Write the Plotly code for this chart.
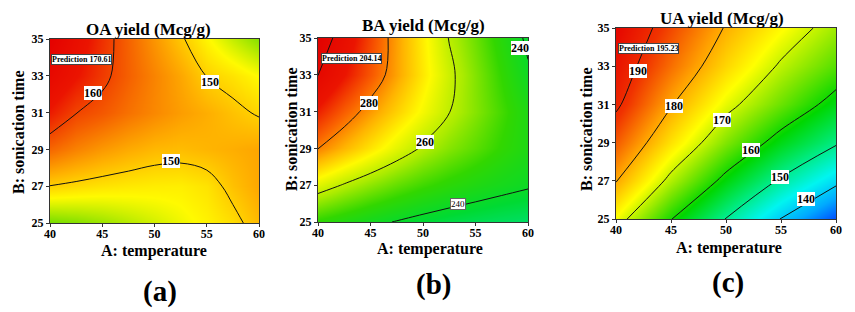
import plotly.graph_objects as go

# ---------------- data ----------------
temp_ab = [40, 42.5, 45, 47.5, 50, 52.5, 55, 57.5, 60]     # A: temperature (panels a, b grid)
temp_c = [40, 45, 50, 55, 60]                               # A: temperature (panel c grid)
son_time = [25, 27, 29, 31, 33, 35]                         # B: sonication time
x_ticks = [40, 45, 50, 55, 60]
y_ticks = [25, 27, 29, 31, 33, 35]

oa_yield = [
    [140.8, 141.5, 142.5, 143.7, 145.0, 146.3, 147.5, 149.0, 151.5],
    [149.9, 149.2, 148.6, 148.2, 147.9, 147.8, 148.6, 151.0, 152.8],
    [157.5, 155.5, 153.9, 152.6, 151.6, 151.3, 151.8, 152.3, 152.9],
    [163.4, 160.1, 158.6, 156.7, 155.0, 153.5, 152.3, 150.9, 149.6],
    [167.7, 164.2, 161.0, 158.0, 155.3, 152.8, 149.9, 148.6, 146.9],
    [170.6, 166.1, 161.8, 157.8, 154.0, 150.5, 147.3, 144.3, 141.6],
]
ba_yield = [
    [247.0, 244.5, 241.8, 239.6, 237.6, 236.0, 234.8, 233.8, 233.0],
    [263.8, 259.4, 255.5, 252.0, 249.0, 246.5, 244.3, 242.4, 240.8],
    [280.2, 274.8, 269.4, 264.1, 259.1, 255.0, 251.3, 247.5, 244.0],
    [290.5, 283.7, 277.4, 271.6, 265.9, 260.2, 254.8, 249.4, 244.0],
    [300.2, 292.2, 284.4, 276.6, 269.0, 261.6, 254.5, 247.7, 241.0],
    [305.0, 296.1, 286.3, 276.9, 268.3, 259.7, 252.7, 245.6, 238.6],
]
ua_yield = [
    [172.5, 160.2, 149.8, 139.8, 131.0],
    [180.3, 168.5, 158.3, 149.2, 141.4],
    [186.0, 175.3, 165.8, 157.6, 150.7],
    [191.0, 180.4, 171.7, 164.7, 157.8],
    [193.3, 184.6, 176.4, 169.3, 163.5],
    [195.2, 187.4, 179.6, 173.4, 167.6],
]

titles = ["OA yield (Mcg/g)", "BA yield (Mcg/g)", "UA yield (Mcg/g)"]
panel_tags = ["(a)", "(b)", "(c)"]
predictions = ["Prediction 170.61", "Prediction 204.14", "Prediction 195.23"]
contour_levels = [(150, 160, 10), (240, 300, 20), (140, 190, 10)]

# contour label placement (T, t, text, small)
labels_a = [(44.1, 32.07, "160", False), (55.3, 32.68, "150", False), (51.6, 28.35, "150", False)]
labels_b = [(44.9, 31.48, "280", False), (50.2, 29.35, "260", False), (59.2, 34.47, "240", False),
            (53.3, 25.99, "240", True)]
labels_c = [(41.97, 32.75, "190", False), (45.27, 30.93, "180", False), (49.6, 30.18, "170", False),
            (52.3, 28.6, "160", False), (54.9, 27.2, "150", False), (57.3, 26.05, "140", False)]

# ---------------- styling ----------------
SERIF = "Liberation Serif"
W, H = 855, 312


def scale(stops):
    lo, hi = stops[0][0], stops[-1][0]
    return [[(v - lo) / (hi - lo), c] for v, c in stops], lo, hi


cs_a = scale([(138, "rgb(40,200,0)"), (141, "rgb(120,222,0)"), (147, "rgb(255,250,0)"),
              (152, "rgb(255,178,0)"), (158, "rgb(245,95,0)"), (164, "rgb(235,20,0)"),
              (171, "rgb(228,0,0)")])
cs_b = scale([(230, "rgb(0,225,130)"), (238, "rgb(0,218,50)"), (248, "rgb(50,215,0)"),
              (258, "rgb(170,235,0)"), (267, "rgb(255,250,0)"), (275, "rgb(255,180,0)"),
              (283, "rgb(250,100,0)"), (292, "rgb(235,20,0)"), (306, "rgb(225,0,0)")])
cs_c = scale([(130, "rgb(0,60,255)"), (137, "rgb(0,170,255)"), (144, "rgb(0,245,240)"),
              (151, "rgb(0,235,130)"), (159, "rgb(0,215,0)"), (166, "rgb(130,230,0)"),
              (173, "rgb(255,255,0)"), (181, "rgb(255,160,0)"), (189, "rgb(240,50,0)"),
              (196, "rgb(228,0,0)")])

# plot-area pixel boxes: (left, right, top, bottom)
boxes = [(50, 259, 39, 223), (318, 528, 38, 222), (616, 836, 28, 219)]
title_pos = [(148, 29), (423, 25), (722, 18)]
xtitle_pos = [(154, 251), (430, 249), (729, 248)]
ytitle_pos = [(18, 132), (291, 129), (586, 129)]
tag_pos = [(160, 291), (433, 284), (728, 282)]
pred_pos = [(40.1, 33.86), (40.3, 33.89), (40.2, 33.95)]

fig = go.Figure()
panels = [
    (temp_ab, oa_yield, cs_a, labels_a),
    (temp_ab, ba_yield, cs_b, labels_b),
    (temp_c, ua_yield, cs_c, labels_c),
]

annotations = []
for i, (xs, z, cs, labs) in enumerate(panels):
    sfx = "" if i == 0 else str(i + 1)
    xa, ya = "x" + sfx, "y" + sfx
    colorscale, zmin, zmax = cs
    fig.add_trace(go.Heatmap(x=xs, y=son_time, z=z, zsmooth="best", colorscale=colorscale,
                             zmin=zmin, zmax=zmax, showscale=False, hoverinfo="skip",
                             xaxis=xa, yaxis=ya))
    s, e, step = contour_levels[i]
    fig.add_trace(go.Contour(x=xs, y=son_time, z=z,
                             contours=dict(start=s, end=e, size=step, coloring="lines"),
                             colorscale=[[0, "#111"], [1, "#111"]], showscale=False,
                             line=dict(width=1, smoothing=1.0), hoverinfo="skip",
                             xaxis=xa, yaxis=ya))
    l, r, t, b = boxes[i]
    axis_common = dict(showgrid=False, zeroline=False, showline=True, mirror=True,
                       linecolor="#333", linewidth=1, ticks="outside", ticklen=3,
                       tickcolor="#333", automargin=False,
                       tickfont=dict(family=SERIF, size=12, color="black", weight="bold"))
    fig.update_layout(**{
        "xaxis" + sfx: dict(domain=[l / W, r / W], range=[40, 60], tickvals=x_ticks,
                            anchor=ya, ticklabelstandoff=-3, **axis_common),
        "yaxis" + sfx: dict(domain=[1 - b / H, 1 - t / H], range=[25, 35], tickvals=y_ticks,
                            anchor=xa, **axis_common),
    })
    # contour value labels
    for (lx, ly, txt, small) in labs:
        annotations.append(dict(x=lx, y=ly, xref=xa, yref=ya,
                                text=txt if small else "<b>%s</b>" % txt,
                                showarrow=False, bgcolor="white", borderpad=0,
                                bordercolor="#666" if small else "rgba(0,0,0,0)",
                                borderwidth=1 if small else 0,
                                font=dict(family=SERIF, size=9 if small else 12, color="black")))
    # prediction flag
    px_, py_ = pred_pos[i]
    annotations.append(dict(x=px_, y=py_, xref=xa, yref=ya, xanchor="left", yanchor="middle",
                            text="<b>%s</b>" % predictions[i], showarrow=False,
                            bgcolor="white", bordercolor="#444", borderwidth=1, borderpad=0,
                            font=dict(family=SERIF, size=8, color="black")))
    # titles
    tx, ty = title_pos[i]
    annotations.append(dict(x=tx / W, y=1 - ty / H, xref="paper", yref="paper",
                            text="<b>%s</b>" % titles[i], showarrow=False,
                            xanchor="center", yanchor="middle",
                            font=dict(family=SERIF, size=17, color="black")))
    xx, xy = xtitle_pos[i]
    annotations.append(dict(x=xx / W, y=1 - xy / H, xref="paper", yref="paper",
                            text="<b>A: temperature</b>", showarrow=False, borderpad=0,
                            xanchor="center", yanchor="middle",
                            font=dict(family=SERIF, size=16, color="black")))
    yx, yy = ytitle_pos[i]
    annotations.append(dict(x=yx / W, y=1 - yy / H, xref="paper", yref="paper",
                            text="<b>B: sonication time</b>", showarrow=False, textangle=-90,
                            xanchor="center", yanchor="middle",
                            font=dict(family=SERIF, size=16, color="black")))
    gx, gy = tag_pos[i]
    annotations.append(dict(x=gx / W, y=1 - gy / H, xref="paper", yref="paper",
                            text="<b>%s</b>" % panel_tags[i], showarrow=False,
                            xanchor="center", yanchor="middle",
                            font=dict(family=SERIF, size=29, color="black")))

fig.update_layout(template="none", width=W, height=H, margin=dict(l=0, r=0, t=0, b=0),
                  paper_bgcolor="white", plot_bgcolor="white", showlegend=False,
                  annotations=annotations)

fig.write_html("out.html", config={"displayModeBar": False},
               post_script="document.body.style.margin='0px';document.body.style.overflow='hidden';")
